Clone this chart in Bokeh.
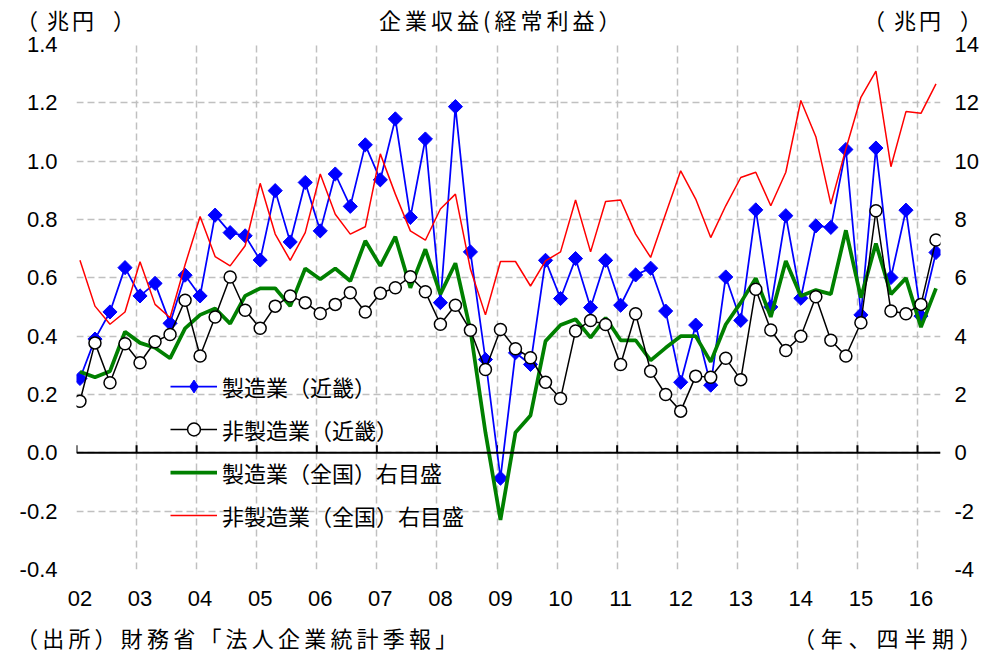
import math
from bokeh.plotting import figure
from bokeh.layouts import column
from bokeh.models import Range1d, LinearAxis, FixedTicker, Span, Legend, LegendItem, Div
from bokeh.embed import file_html
from bokeh.resources import INLINE

# ---------------- data (quarterly, 2002Q1 .. 2016Q2) ----------------
years = ["02", "03", "04", "05", "06", "07", "08", "09", "10", "11", "12", "13", "14", "15", "16"]

# 製造業（近畿）, 兆円, left axis
manuf_kinki = [
    0.255, 0.39, 0.483, 0.635, 0.538, 0.581, 0.444, 0.609, 0.538, 0.815,
    0.755, 0.744, 0.661, 0.899, 0.723, 0.927, 0.761, 0.956, 0.845, 1.056,
    0.936, 1.145, 0.807, 1.076, 0.515, 1.187, 0.689, 0.320, -0.087, 0.343,
    0.303, 0.660, 0.529, 0.666, 0.498, 0.660, 0.506, 0.610, 0.633, 0.486,
    0.242, 0.438, 0.232, 0.603, 0.454, 0.833, 0.500, 0.813, 0.530, 0.778,
    0.773, 1.040, 0.473, 1.045, 0.601, 0.832, 0.469, 0.687,
]
# 非製造業（近畿）, 兆円, left axis
nonmanuf_kinki = [
    0.177, 0.377, 0.240, 0.374, 0.309, 0.381, 0.406, 0.523, 0.332, 0.466,
    0.603, 0.489, 0.427, 0.503, 0.538, 0.515, 0.478, 0.509, 0.549, 0.483,
    0.547, 0.566, 0.604, 0.552, 0.441, 0.506, 0.420, 0.286, 0.423, 0.357,
    0.326, 0.242, 0.186, 0.418, 0.454, 0.440, 0.303, 0.477, 0.280, 0.200,
    0.143, 0.263, 0.259, 0.324, 0.251, 0.561, 0.421, 0.351, 0.400, 0.535,
    0.386, 0.332, 0.446, 0.830, 0.486, 0.477, 0.509, 0.730,
]
# 製造業（全国）, 兆円, right axis
manuf_national = [
    2.78, 2.59, 2.80, 4.15, 3.77, 3.60, 3.24, 4.27, 4.73, 4.95,
    4.43, 5.38, 5.64, 5.64, 5.03, 6.32, 5.95, 6.32, 5.89, 7.27,
    6.41, 7.41, 5.66, 6.98, 5.44, 6.50, 4.20, 0.70, -2.30, 0.70,
    1.28, 3.83, 4.38, 4.58, 3.95, 4.63, 3.86, 3.86, 3.17, 3.60,
    4.00, 4.00, 3.12, 4.40, 5.15, 5.99, 4.66, 6.58, 5.38, 5.58,
    5.44, 7.63, 5.32, 7.18, 5.44, 5.99, 4.31, 5.64,
]
# 非製造業（全国）, 兆円, right axis
nonmanuf_national = [
    6.60, 5.03, 4.41, 4.83, 6.55, 5.09, 4.63, 6.45, 8.10, 6.73,
    6.41, 7.10, 9.24, 7.50, 6.60, 7.55, 9.56, 8.18, 7.50, 7.75,
    10.25, 8.87, 7.61, 7.29, 8.36, 8.87, 6.30, 4.73, 6.56, 6.56,
    5.72, 6.58, 6.89, 8.67, 6.89, 8.62, 8.67, 7.50, 6.70, 8.20,
    9.67, 8.70, 7.38, 8.47, 9.44, 9.62, 8.47, 9.62, 12.08, 10.84,
    8.53, 10.42, 12.19, 13.09, 9.81, 11.70, 11.64, 12.65,
]

left_ticks = [-0.4, -0.2, 0.0, 0.2, 0.4, 0.6, 0.8, 1.0, 1.2, 1.4]
left_labels = ["-0.4", "-0.2", "0.0", "0.2", "0.4", "0.6", "0.8", "1.0", "1.2", "1.4"]
right_ticks = [-4, -2, 0, 2, 4, 6, 8, 10, 12, 14]

series_labels = ["製造業（近畿）", "非製造業（近畿）", "製造業（全国）右目盛", "非製造業（全国）右目盛"]
title_text = "企業収益(経常利益）"
unit_parts = ["（", "兆円", "）"]
source_text = "（出所）財務省「法人企業統計季報」"
period_text = "（年、四半期）"

# ---------------- layout ----------------
quarters = list(range(len(manuf_kinki)))
label_pos = [4 * k for k in range(len(years))]
grid_pos = [4 * k - 0.23 for k in range(len(years))]

NUM_FONT = "Liberation Sans"
JP_FONT = "Noto Sans CJK JP"

p = figure(width=984, height=587, output_backend="svg", toolbar_location=None,
           x_range=Range1d(-0.23, 57.3), y_range=Range1d(-0.4, 1.4),
           min_border_left=76, min_border_right=44, min_border_top=12, min_border_bottom=50)
p.outline_line_color = None
p.background_fill_color = "white"
p.extra_y_ranges = {"right": Range1d(-4, 14)}


def style_axis(ax, standoff):
    ax.axis_line_color = None
    ax.major_tick_line_color = None
    ax.minor_tick_line_color = None
    ax.major_tick_out = 0
    ax.major_tick_in = 0
    ax.minor_tick_out = 0
    ax.minor_tick_in = 0
    ax.major_label_standoff = standoff
    ax.major_label_text_font = NUM_FONT
    ax.major_label_text_font_size = "22px"
    ax.major_label_text_color = "black"


xa = p.xaxis[0]
xa.ticker = FixedTicker(ticks=label_pos)
xa.major_label_overrides = {pos: lab for pos, lab in zip(label_pos, years)}
style_axis(xa, 21)

ya = p.yaxis[0]
ya.ticker = FixedTicker(ticks=left_ticks)
ya.major_label_overrides = {t: l for t, l in zip(left_ticks, left_labels)}
style_axis(ya, 19)

ra = LinearAxis(y_range_name="right", ticker=FixedTicker(ticks=right_ticks))
ra.major_label_overrides = {t: str(t) for t in right_ticks}
style_axis(ra, 14)
p.add_layout(ra, "right")

# grids
p.xgrid.ticker = FixedTicker(ticks=grid_pos)
p.ygrid.ticker = FixedTicker(ticks=left_ticks)
for g in (p.xgrid[0], p.ygrid[0]):
    g.grid_line_color = "#C0C0C0"
    g.grid_line_width = 1.5
    g.grid_line_dash = "7 4"

# zero axis line with upward tick marks
p.add_layout(Span(location=0, dimension="width", line_color="black", line_width=2))
p.segment(x0=grid_pos, y0=[0] * len(grid_pos), x1=grid_pos, y1=[0.026] * len(grid_pos),
          line_color="black", line_width=2)

# series
r_blue_l = p.line(quarters, manuf_kinki, line_color="#0000FF", line_width=1.75)
r_blue_m = p.scatter(quarters, manuf_kinki, marker="square", angle=math.pi / 4, size=10,
                     fill_color="#0000FF", line_color="#0000FF")
r_green = p.line(quarters, manuf_national, y_range_name="right", line_color="#008000", line_width=3.75)
r_red = p.line(quarters, nonmanuf_national, y_range_name="right", line_color="#FF0000", line_width=1.5)
r_black_l = p.line(quarters, nonmanuf_kinki, line_color="black", line_width=1.5)
r_black_m = p.scatter(quarters, nonmanuf_kinki, marker="circle", size=12,
                      fill_color="white", line_color="black", line_width=1.5)
# legend-only diamond (no data drawn)
r_blue_leg = p.scatter(x=[float("nan")], y=[float("nan")], marker="diamond",
                       fill_color="#0000FF", line_color="#0000FF")

legend = Legend(items=[
    LegendItem(label=series_labels[0], renderers=[r_blue_l, r_blue_leg]),
    LegendItem(label=series_labels[1], renderers=[r_black_l, r_black_m]),
    LegendItem(label=series_labels[2], renderers=[r_green]),
    LegendItem(label=series_labels[3], renderers=[r_red]),
], location=(94, 38), orientation="vertical")
legend.background_fill_alpha = 0
legend.border_line_color = None
legend.padding = 0
legend.margin = 0
legend.spacing = 11
legend.glyph_width = 47
legend.glyph_height = 32
legend.label_height = 30
legend.label_standoff = 5
legend.label_text_font = JP_FONT
legend.label_text_font_size = "22px"
legend.label_text_color = "black"
p.add_layout(legend)

# header / footer texts as HTML
base = ("position:relative;width:984px;height:{h}px;font-family:'Noto Sans CJK JP';"
        "font-size:22px;color:black;line-height:22px;white-space:nowrap;")


def unit_html(left):
    return (f'<span style="position:absolute;left:{left}px;top:8px;">'
            f'{unit_parts[0]}<span style="margin-left:9px;margin-right:16px;letter-spacing:3px;">'
            f'{unit_parts[1]}</span>{unit_parts[2]}</span>')


def spaced(txt, ls):
    return f'<span style="letter-spacing:{ls}px;">{txt[:-1]}</span>{txt[-1]}'


top_html = (
    f'<div style="{base.format(h=32)}">'
    + unit_html(16)
    + f'<span style="position:absolute;left:379px;top:8px;">{spaced(title_text, 4)}</span>'
    + unit_html(863)
    + '</div>'
)
bottom_html = (
    f'<div style="{base.format(h=36)}">'
    f'<span style="position:absolute;left:16px;top:7px;">{spaced(source_text, 4.2)}</span>'
    f'<span style="position:absolute;left:793px;top:7px;">{spaced(period_text, 5.8)}</span>'
    '</div>'
)
top_div = Div(text=top_html, width=984, height=32, margin=0)
bottom_div = Div(text=bottom_html, width=984, height=36, margin=0)
p.margin = 0

layout = column(top_div, p, bottom_div, spacing=0, margin=0)

open("out.html", "w").write(file_html(layout, INLINE))
